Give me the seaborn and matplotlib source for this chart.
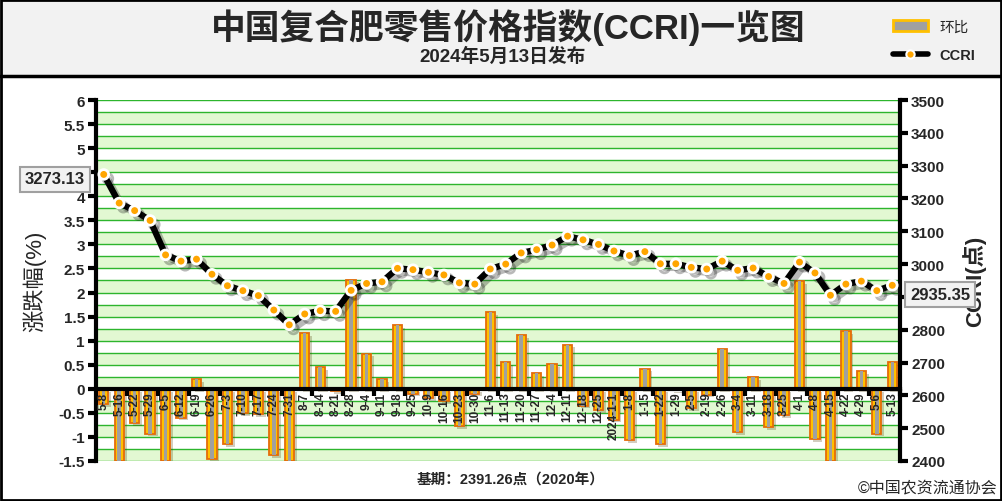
import numpy as np
import pandas as pd
import matplotlib
matplotlib.use("Agg")
import matplotlib.pyplot as plt
import matplotlib.patheffects as pe
from matplotlib.patches import Rectangle, Patch
from matplotlib.lines import Line2D
import seaborn as sns

# weekly release dates
dates = ['5-8', '5-16', '5-22', '5-29', '6-5', '6-12', '6-19', '6-26', '7-3', '7-10',
         '7-17', '7-24', '7-31', '8-7', '8-14', '8-21', '8-28', '9-4', '9-11', '9-18',
         '9-25', '10-9', '10-16', '10-23', '10-30', '11-6', '11-13', '11-20', '11-27', '12-4',
         '12-11', '12-18', '12-25', '2024-1-1', '1-8', '1-15', '1-22', '1-29', '2-5', '2-19',
         '2-26', '3-4', '3-11', '3-18', '3-25', '4-1', '4-8', '4-15', '4-22', '4-29',
         '5-6', '5-13']
# CCRI index (points)
ccri = [3273.13, 3186, 3163, 3133, 3028, 3009, 3015, 2969, 2934, 2919,
        2904, 2860, 2815, 2848, 2858, 2856, 2920, 2941, 2946, 2987,
        2983, 2975, 2967, 2943, 2939, 2985, 3000, 3034, 3044, 3058,
        3085, 3074, 3060, 3040, 3026, 3038, 3001, 3001, 2990, 2985,
        3009, 2981, 2988, 2962, 2941, 3006, 2973, 2905, 2939, 2948,
        2919, 2935.35]
# week-on-week change (%)
pct = [-0.32, -1.5, -0.72, -0.93, -1.5, -0.6, 0.2, -1.45, -1.15, -0.5,
       -0.52, -1.38, -1.5, 1.16, 0.45, -0.05, 2.27, 0.73, 0.2, 1.33,
       -0.1, -0.2, -0.25, -0.78, -0.1, 1.6, 0.56, 1.12, 0.32, 0.52,
       0.92, -0.35, -0.45, -0.64, -1.06, 0.42, -1.15, -0.03, -0.4, -0.12,
       0.83, -0.9, 0.25, -0.8, -0.55, 2.23, -1.05, -1.5, 1.2, 0.36,
       -0.93, 0.56]
left_ticks = np.arange(-1.5, 6.01, 0.5)
right_ticks = np.arange(2400, 3501, 100)

sns.set_theme(style='white')
plt.rcParams['font.family'] = ['Liberation Sans', 'Noto Sans CJK SC']
plt.rcParams['axes.unicode_minus'] = False

df = pd.DataFrame({'date': dates, 'pct': pct, 'ccri': ccri, 'pos': np.arange(len(dates))})
n = len(dates)

fig = plt.figure(figsize=(10.02, 5.02), dpi=100)
fig.patches.append(Rectangle((0, 0.8486), 1, 0.1514, transform=fig.transFigure,
                             facecolor='#F2F2F2', edgecolor='none', zorder=0))
fig.lines.append(Line2D([0, 1], [0.8476, 0.8476], transform=fig.transFigure, color='black', lw=2.5))
fig.patches.append(Rectangle((0.001, 0.002), 0.998, 0.996, transform=fig.transFigure,
                             fill=False, edgecolor='black', lw=2, zorder=10))

ax = fig.add_axes([0.0958, 0.0797, 0.8024, 0.7191])

# bars: orange/yellow outline with grey core
sns.barplot(data=df, x='date', y='pct', order=dates, ax=ax, color='#FFC000', saturation=1,
            edgecolor='#E46C0A', linewidth=1.3, width=0.6, errorbar=None, zorder=3)
for p in ax.patches:
    p.set_path_effects([pe.SimplePatchShadow(offset=(2, -2), alpha=0.25), pe.Normal()])
sns.barplot(data=df, x='date', y='pct', order=dates, ax=ax, color='#A0A0A0', saturation=1,
            linewidth=0, width=0.22, errorbar=None, zorder=4)

# banded background + green grid lines (kept under the bars)
for lo in np.arange(-1.5, 6, 0.5):
    ax.axhspan(lo, lo + 0.25, color='#E2F8D2', lw=0, zorder=0)
for g in np.arange(-1.5, 6.01, 0.25):
    ax.axhline(g, color='#2DB52D', lw=1, zorder=1)
ax.set_ylim(-1.5, 6)
ax.set_yticks(left_ticks)
ax.set_yticklabels([f'{v:g}' for v in left_ticks], fontsize=11, fontweight='bold')
ax.tick_params(axis='y', which='major', length=6, width=3, color='black', direction='out', pad=2, left=True)

ax.spines['bottom'].set_position(('data', 0))
ax.spines['bottom'].set_linewidth(3)
ax.spines['bottom'].set_color('black')
ax.spines['bottom'].set_zorder(6)
ax.spines['left'].set_linewidth(3)
ax.spines['left'].set_color('black')
ax.spines['top'].set_visible(False)
ax.spines['right'].set_visible(False)

ax.set_xticks(np.arange(n))
ax.set_xticklabels(dates, rotation=90, fontsize=8.5, fontweight='bold')
ax.set_xticks(np.arange(1.5, n, 2), minor=True)
ax.tick_params(axis='x', which='major', length=0, pad=2, bottom=True)
ax.tick_params(axis='x', which='minor', length=5, width=3, color='black', direction='out', bottom=True)
ax.xaxis.set_zorder(7)
ax.yaxis.set_zorder(7)
ax.set_xlabel('')
ax.set_ylabel('涨跌幅(%)', fontsize=16)
ax.yaxis.set_label_coords(-0.062, 0.5)

# CCRI line
ax2 = ax.twinx()
sns.lineplot(data=df, x='pos', y='ccri', ax=ax2, color='black', lw=4.5, marker='o', ms=7,
             mfc='#FFA500', mec='white', mew=2, zorder=5)
ax2.lines[0].set_path_effects([pe.SimpleLineShadow(offset=(3, -3), alpha=0.3), pe.Normal()])
ax2.set_ylim(2400, 3500)
ax2.set_yticks(right_ticks)
ax2.set_yticklabels([str(v) for v in right_ticks], fontsize=11, fontweight='bold')
ax2.tick_params(axis='y', length=6, width=3, color='black', direction='out', pad=2, right=True)
for s in ['left', 'top', 'bottom']:
    ax2.spines[s].set_visible(False)
ax2.spines['right'].set_linewidth(3)
ax2.spines['right'].set_color('black')
ax2.set_xlabel('')
ax2.set_ylabel('CCRI(点)', fontsize=16, fontweight='bold')
ax2.yaxis.set_label_coords(1.078, 0.5)
ax.set_xlim(-0.5, n - 0.5)

# first / last value boxes
box = dict(boxstyle='square,pad=0.3', fc='#F2F2F2', ec='#A0A0A0', lw=1.5)
fig.text(55 / 1002, 1 - 180 / 502, f'{ccri[0]:.2f}', ha='center', va='center',
         fontsize=12, fontweight='bold', bbox=box, zorder=8)
fig.text(940 / 1002, 1 - 295 / 502, f'{ccri[-1]:.2f}', ha='center', va='center',
         fontsize=12, fontweight='bold', bbox=box, zorder=8)

# titles
fig.text(0.507, 1 - 28 / 502, '中国复合肥零售价格指数(CCRI)一览图', ha='center', va='center',
         fontsize=25, fontweight='bold')
fig.text(0.502, 1 - 57 / 502, '2024年5月13日发布', ha='center', va='center', fontsize=13.5, fontweight='bold')
fig.text(511 / 1002, 1 - 480 / 502, '基期：2391.26点（2020年）', ha='center', va='center',
         fontsize=10.5, fontweight='bold')
fig.text(997 / 1002, 1 - 488 / 502, '©中国农资流通协会', ha='right', va='center', fontsize=11.5)

# legend
handles = [Patch(facecolor='#A0A0A0', edgecolor='#FFC000', lw=2),
           Line2D([0], [0], color='black', lw=4, marker='o', ms=6, mfc='#FFA500', mec='white', mew=1.5)]
leg = fig.legend(handles=handles, labels=['环比', 'CCRI'], loc='upper left', bbox_to_anchor=(0.878, 0.985),
                 frameon=False, fontsize=10.5, handlelength=2.4, labelspacing=1.0)
leg.get_texts()[1].set_fontweight('bold')

fig.savefig('out.png', dpi=100)
